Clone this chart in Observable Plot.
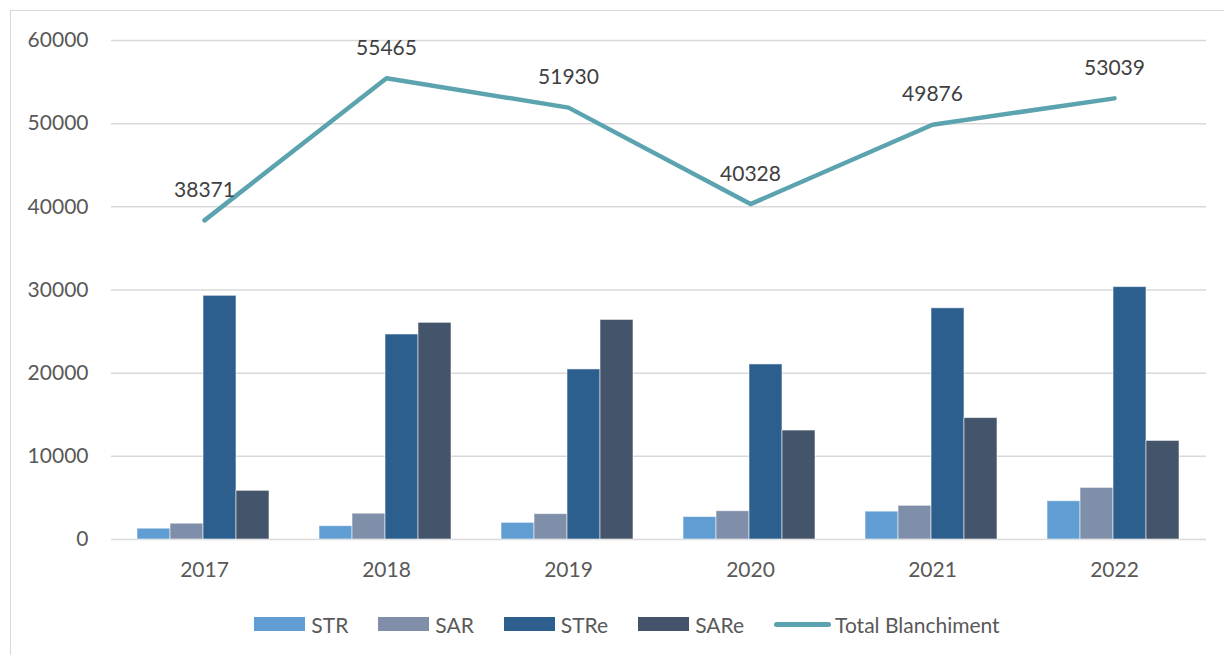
<!DOCTYPE html>
<html>
<head>
<meta charset="utf-8">
<script src="https://cdn.jsdelivr.net/npm/d3@7"></script>
<script src="https://cdn.jsdelivr.net/npm/@observablehq/plot@0.6"></script>
<style>
  html, body { margin: 0; padding: 0; background: #fff; overflow: hidden; }
  body { width: 1224px; height: 655px; position: relative; font-family: Lato, "Open Sans", sans-serif; }
  #frame { position: absolute; left: 10px; top: 10px; width: 1300px; height: 700px; border: 1px solid #d9d9d9; box-sizing: border-box; }
  #chart { position: relative; width: 1224px; height: 600px; }
  #chart svg { position: absolute; left: 0; top: 0; }
  #legend { display: flex; justify-content: center; align-items: center; box-sizing: border-box;
            width: 1224px; padding-left: 30px; margin-top: 10px; height: 28px;
            font-size: 21px; color: #595959; }
  .item { display: flex; align-items: center; margin: 0 15px; }
  .sw { width: 51px; height: 14px; margin-right: 6px; }
  .ln { width: 57px; height: 5px; border-radius: 3px; margin-right: 4px; }
</style>
</head>
<body>
<div id="frame"></div>
<div id="chart"></div>
<div id="legend"></div>
<script>
// Yearly reports by type, with the overall laundering total
const years = ["2017", "2018", "2019", "2020", "2021", "2022"];
const series = ["STR", "SAR", "STRe", "SARe"];
const strValues = [1300, 1600, 2000, 2700, 3350, 4600];
const sarValues = [1900, 3100, 3050, 3400, 4050, 6200];
const streValues = [29300, 24650, 20450, 21050, 27800, 30350];
const sareValues = [5850, 26050, 26400, 13100, 14600, 11850];
const totalValues = [38371, 55465, 51930, 40328, 49876, 53039];
const yTicks = [0, 10000, 20000, 30000, 40000, 50000, 60000];

const barColors = ["#5f9dd2", "#7f8faa", "#2c5f8e", "#44546a"];
const lineColor = "#5ba4af";
const totalLabel = "Total Blanchiment";

const seriesValues = [strValues, sarValues, streValues, sareValues];
const barRows = years.flatMap((year, i) =>
  series.map((s, j) => ({year, series: s, value: seriesValues[j][i]}))
);
const lineRows = years.map((year, i) => ({year, total: totalValues[i]}));

const W = 1224, H = 600;
const frame = {width: W, height: H, marginLeft: 111, marginRight: 18, marginTop: 40, marginBottom: 61};

// Base layer: grid, axes, total line and its labels
const base = Plot.plot({
  ...frame,
  style: {fontFamily: "Lato, 'Open Sans', sans-serif", fontSize: "21px", color: "#595959", background: "transparent", overflow: "visible"},
  x: {type: "point", domain: years, padding: 0.5, label: null, tickSize: 0, tickPadding: 23},
  y: {domain: [0, 60000], ticks: yTicks, tickFormat: d3.format("d"), label: null, tickSize: 0, tickPadding: 23},
  marks: [
    Plot.ruleY(yTicks, {stroke: "#d9d9d9", strokeWidth: 1.5}),
    Plot.line(lineRows, {x: "year", y: "total", stroke: lineColor, strokeWidth: 4.5, strokeLinecap: "round", strokeLinejoin: "round"}),
    Plot.text(lineRows, {x: "year", y: "total", text: d => String(d.total), dy: -30, fill: "#404040", fontSize: 21})
  ]
});

// Bar layer: clustered columns, one facet per year
const bars = Plot.plot({
  ...frame,
  style: {background: "transparent", overflow: "visible"},
  fx: {domain: years, paddingInner: 0.274, paddingOuter: 0.137, axis: null, label: null},
  x: {domain: series, padding: 0, axis: null},
  y: {domain: [0, 60000], axis: null},
  color: {domain: series, range: barColors},
  marks: [
    Plot.barY(barRows, {fx: "year", x: "series", y: "value", fill: "series", stroke: "#ffffff", strokeOpacity: 0.55, strokeWidth: 1})
  ]
});

const chart = document.getElementById("chart");
chart.append(base, bars);

// Legend row below the chart
const legend = document.getElementById("legend");
series.forEach((s, i) => {
  const item = document.createElement("div");
  item.className = "item";
  const sw = document.createElement("span");
  sw.className = "sw";
  sw.style.background = barColors[i];
  const label = document.createElement("span");
  label.textContent = s;
  item.append(sw, label);
  legend.append(item);
});
const lineItem = document.createElement("div");
lineItem.className = "item";
const ln = document.createElement("span");
ln.className = "ln";
ln.style.background = lineColor;
const lineText = document.createElement("span");
lineText.textContent = totalLabel;
lineItem.append(ln, lineText);
legend.append(lineItem);
</script>
</body>
</html>
